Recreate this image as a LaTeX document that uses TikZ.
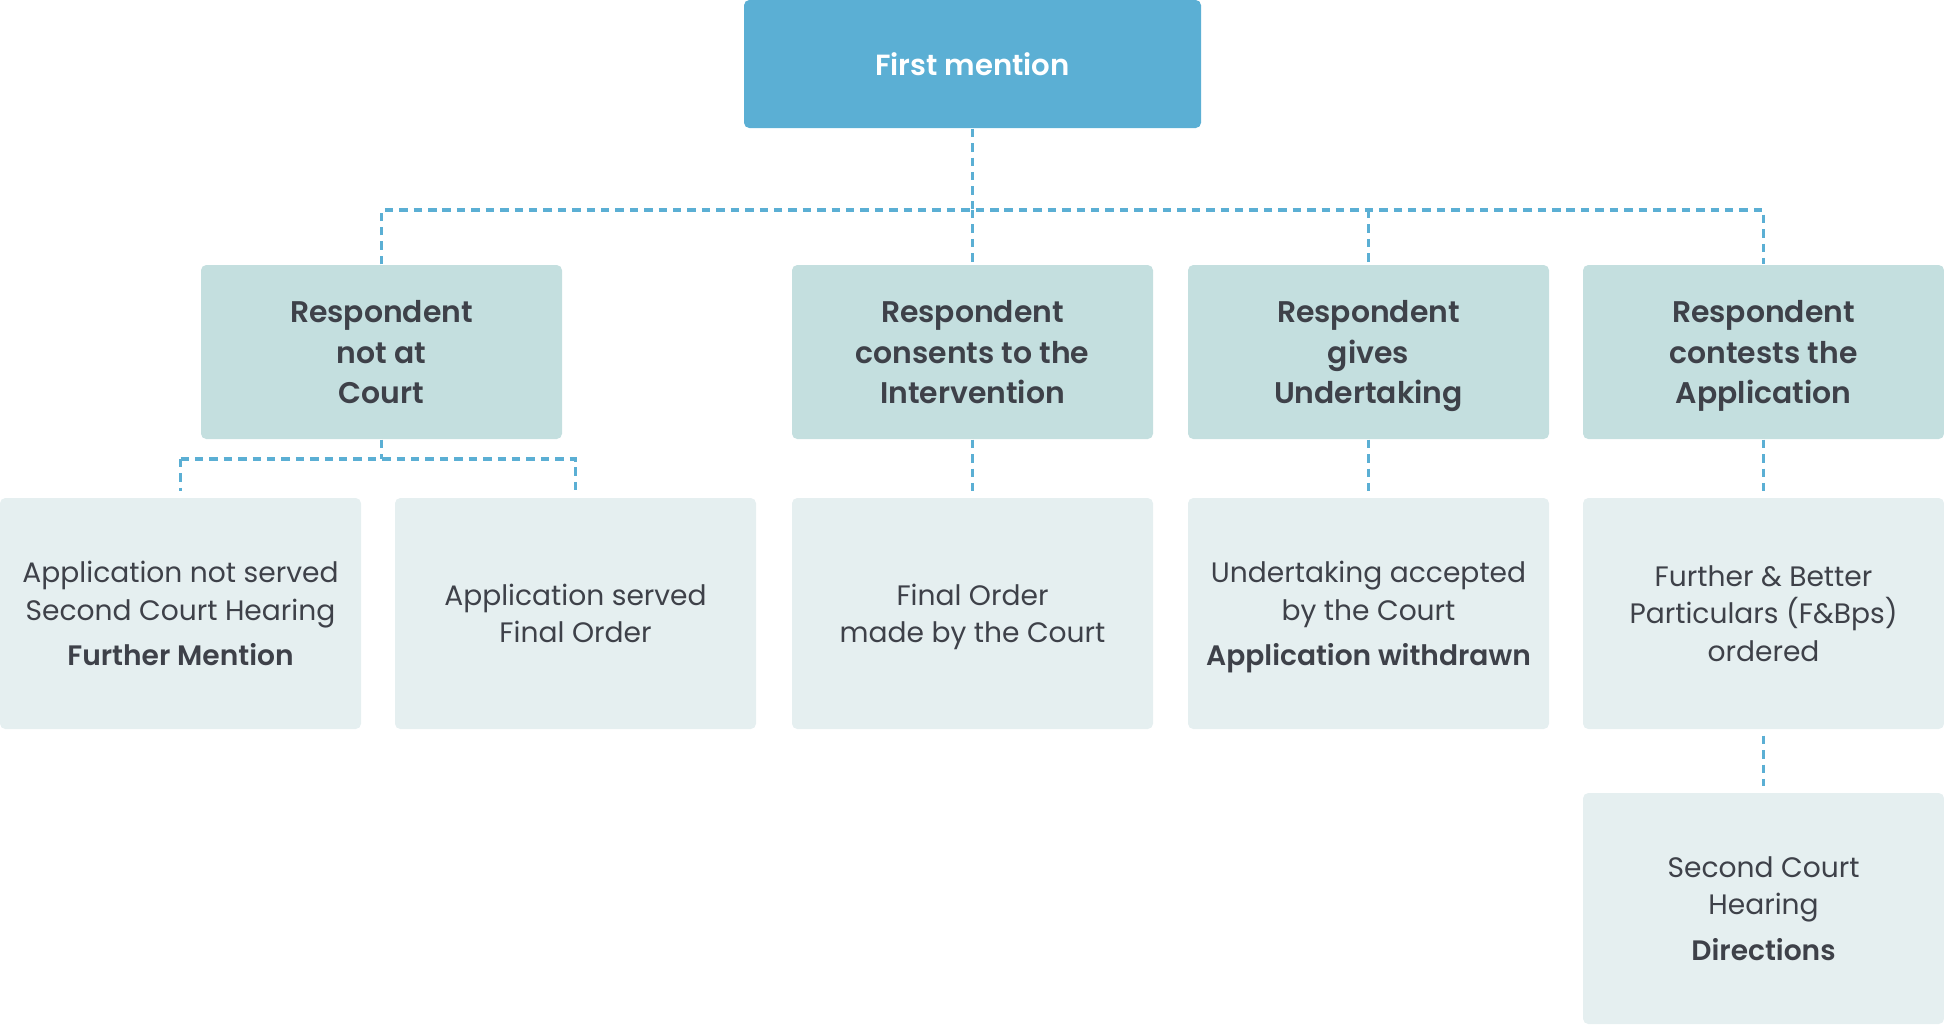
\documentclass[tikz,border=0pt]{standalone}
\usepackage{fontspec}
\setmainfont{Poppins}[BoldFont={Poppins SemiBold}]
\definecolor{mention}{HTML}{5BAFD4}
\definecolor{respfill}{HTML}{C4DFDF}
\definecolor{outfill}{HTML}{E5EFF0}
\definecolor{ink}{HTML}{3E4149}
\tikzset{
  headbox/.style={fill=mention, text=white, rounded corners=1.5pt,
    minimum width=4.57cm, minimum height=1.28cm,
    font=\fontsize{8.3}{11}\selectfont\bfseries},
  respbox/.style={fill=respfill, text=ink, rounded corners=1.5pt, align=center,
    minimum width=3.61cm, minimum height=1.74cm, text depth=0pt,
    font=\fontsize{8.5}{11.6}\selectfont\bfseries},
  outbox/.style={fill=outfill, text=ink, rounded corners=1.5pt, align=center,
    minimum width=3.61cm, minimum height=2.31cm, text depth=0pt,
    font=\fontsize{8}{10.6}\selectfont},
  link/.style={draw=mention, line width=1pt, dash pattern=on 2.4pt off 1.7pt},
  gap/.style={shorten >=1.7pt}
}
\begin{document}
\begin{tikzpicture}
\useasboundingbox (0,0) rectangle (19.44,-10.24);

\node[headbox] (first) at (9.725,-0.64) {First mention};

% respondent row
\node[respbox] (notat)   at (3.815,-3.52)  {Respondent\\not at\\Court};
\node[respbox] (consent) at (9.725,-3.52)  {Respondent\\consents to the\\Intervention};
\node[respbox] (gives)   at (13.685,-3.52) {Respondent\\gives\\Undertaking};
\node[respbox] (contest) at (17.635,-3.52) {Respondent\\contests the\\Application};

% outcomes
\node[outbox] (nserved)  at (1.805,-6.135)  {Application not served\\Second Court Hearing\\[2.4pt]\textbf{Further Mention}};
\node[outbox] (served)   at (5.755,-6.135)  {Application served\\Final Order};
\node[outbox] (final)    at (9.725,-6.135)  {Final Order\\made by the Court};
\node[outbox] (accepted) at (13.685,-6.135) {Undertaking accepted\\by the Court\\[2.4pt]\textbf{Application withdrawn}};
\node[outbox] (fbp)      at (17.635,-6.135) {Further \& Better\\Particulars (F\&Bps)\\ordered};
\node[outbox] (second)   at (17.635,-9.085) {Second Court\\Hearing\\[2.4pt]\textbf{Directions}};

\coordinate (bus) at (0,-2.10);
\coordinate (bus2) at (0,-4.59);

\draw[link] (first.south) -- (first.south |- bus);
\draw[link] (notat.north) -- (notat.north |- bus) -- (contest.north |- bus) -- (contest.north);
\foreach \n in {consent,gives}
  \draw[link] (\n.north |- bus) -- (\n.north);

\draw[link] (notat.south) -- (notat.south |- bus2);
\draw[link,gap] (nserved.north |- bus2) -- (served.north |- bus2) -- (served.north);
\draw[link,gap] (nserved.north |- bus2) -- (nserved.north);

\foreach \a/\b in {consent/final, gives/accepted, contest/fbp}
  \draw[link,gap] (\a.south) -- (\b.north);
\draw[link,gap,shorten <=1.7pt] (fbp.south) -- (second.north);

\end{tikzpicture}
\end{document}
